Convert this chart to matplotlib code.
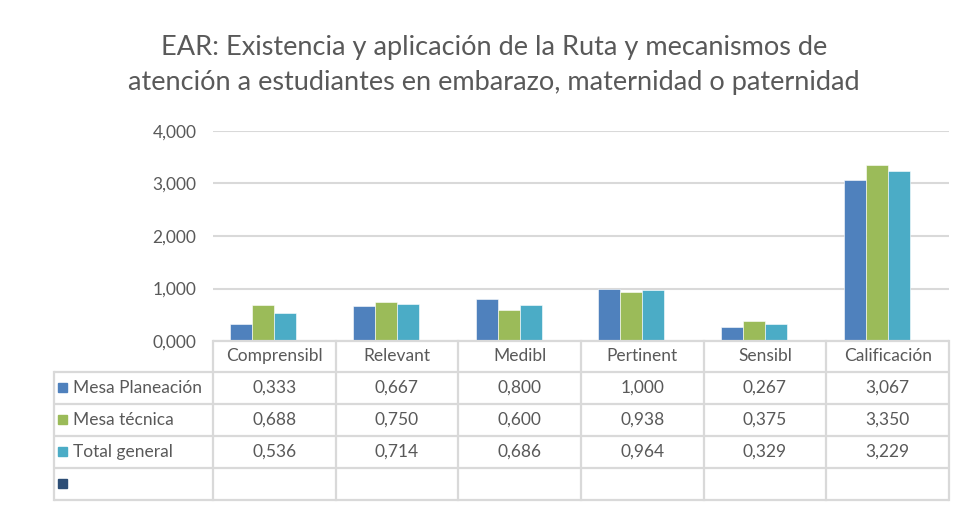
import matplotlib
matplotlib.use("Agg")
import matplotlib.pyplot as plt
from matplotlib.patches import Rectangle

plt.rcParams['font.family'] = ['Lato', 'DejaVu Sans']

title = "EAR: Existencia y aplicación de la Ruta y mecanismos de\natención a estudiantes en embarazo, maternidad o paternidad"
categories = ["Comprensibl", "Relevant", "Medibl", "Pertinent", "Sensibl", "Calificación"]
series_names = ["Mesa Planeación", "Mesa técnica", "Total general", ""]
mesa_planeacion = [0.333, 0.667, 0.800, 1.000, 0.267, 3.067]
mesa_tecnica = [0.688, 0.750, 0.600, 0.938, 0.375, 3.350]
total_general = [0.536, 0.714, 0.686, 0.964, 0.329, 3.229]
empty_series = [None] * 6
yticks = [0, 1, 2, 3, 4]

series = [mesa_planeacion, mesa_tecnica, total_general, empty_series]
colors = ["#4F81BD", "#9BBB59", "#4BACC6", "#2C4D75"]
text_c = "#595959"
grid_c = "#D9D9D9"

W, H = 967, 508
fig = plt.figure(figsize=(W / 100, H / 100), dpi=100)

def fx(px):
    return px / W

def fy(py):
    return 1 - py / H

# plot axes
x0, x1 = 213, 949
y_top, y_bot = 131, 341
ax = fig.add_axes([fx(x0), fy(y_bot), fx(x1) - fx(x0), fy(y_top) - fy(y_bot)])
n = len(categories)
ax.set_xlim(0, n)
ax.set_ylim(0, 4)
bw = 0.18
for si, (vals, col) in enumerate(zip(series, colors)):
    for ci, v in enumerate(vals):
        if v is None:
            continue
        xpos = ci + 0.5 + (si - 1.5) * bw
        ax.bar(xpos, v, width=bw, color=col, edgecolor="white", linewidth=0.4, zorder=3)
ax.set_yticks(yticks)
ax.set_yticklabels([f"{t:.3f}".replace(".", ",") for t in yticks], color=text_c, fontsize=12.5)
ax.tick_params(axis="y", length=0, pad=12)
ax.set_xticks([])
for s in ax.spines.values():
    s.set_visible(False)
ax.yaxis.grid(True, color=grid_c, linewidth=1.5, zorder=0)
ax.set_axisbelow(True)

# table axes
tx0, ty0, ty1 = 54, 341, 500
tax = fig.add_axes([fx(tx0), fy(ty1), fx(x1) - fx(tx0), fy(ty0) - fy(ty1)])
tax.set_xlim(tx0, x1)
tax.set_ylim(ty1, ty0)
tax.axis("off")
col_w = (x1 - x0) / n
row_edges = [341, 372, 404, 436, 468, 500]
lw = 1.6
# horizontal lines
tax.plot([x0, x1], [row_edges[0]] * 2, color=grid_c, lw=lw, clip_on=False, solid_capstyle="butt")
for ry in row_edges[1:]:
    tax.plot([tx0, x1], [ry] * 2, color=grid_c, lw=lw, clip_on=False, solid_capstyle="butt")
# vertical lines
for ci in range(n + 1):
    cx = x0 + ci * col_w
    tax.plot([cx, cx], [row_edges[0], row_edges[-1]], color=grid_c, lw=lw, clip_on=False)
tax.plot([tx0, tx0], [row_edges[1], row_edges[-1]], color=grid_c, lw=lw, clip_on=False)

# header
for ci, cat in enumerate(categories):
    cx = x0 + (ci + 0.5) * col_w
    tax.text(cx, (row_edges[0] + row_edges[1]) / 2, cat, ha="center", va="center",
             color=text_c, fontsize=12.5)
# rows
for si, (name, vals, col) in enumerate(zip(series_names, series, colors)):
    ry = (row_edges[si + 1] + row_edges[si + 2]) / 2
    tax.add_patch(Rectangle((58, ry - 5), 9, 9, color=col, clip_on=False))
    tax.text(73, ry, name, ha="left", va="center", color=text_c, fontsize=12.5)
    for ci, v in enumerate(vals):
        if v is None:
            continue
        cx = x0 + (ci + 0.5) * col_w
        tax.text(cx, ry, f"{v:.3f}".replace(".", ","), ha="center", va="center",
                 color=text_c, fontsize=12.5)

fig.text(fx(494), fy(65), title, ha="center", va="center", color=text_c,
         fontsize=19.5, linespacing=1.5)

fig.savefig("out.png", dpi=100)
